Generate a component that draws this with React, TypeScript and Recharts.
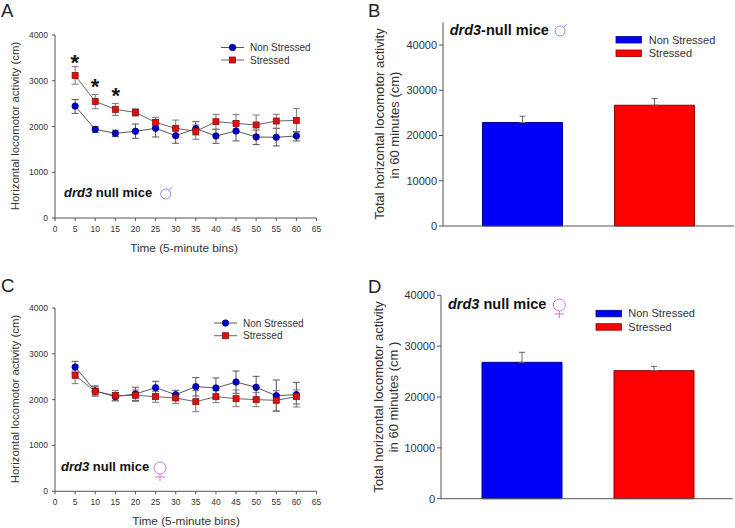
import React from "react";
import { LineChart, Line, BarChart, Bar, Cell, XAxis, YAxis, ErrorBar } from "recharts";

const FONT = "'Liberation Sans', Arial, sans-serif";
const TXT = "#333333";
const AXIS = "#555555";

const times = [5, 10, 15, 20, 25, 30, 35, 40, 45, 50, 55, 60];
const xTicks = [0, 5, 10, 15, 20, 25, 30, 35, 40, 45, 50, 55, 60, 65];
const lineTicks = [0, 1000, 2000, 3000, 4000];
const barTicksB = [0, 10000, 20000, 30000, 40000];

const aNon = [2446, 1938, 1851, 1895, 1960, 1800, 1953, 1793, 1902, 1771, 1764, 1793];
const aNonHi = [2590, 2000, 1920, 2054, 2150, 1960, 2105, 1940, 2110, 1923, 1960, 1887];
const aNonLo = [2287, 1870, 1780, 1742, 1771, 1633, 1815, 1633, 1685, 1604, 1575, 1684];
const aStr = [3114, 2548, 2374, 2308, 2091, 1960, 1895, 2105, 2069, 2033, 2120, 2134];
const aStrHi = [3310, 2700, 2504, 2388, 2200, 2141, 2033, 2265, 2265, 2250, 2265, 2395];
const aStrLo = [2925, 2388, 2243, 2228, 1982, 1778, 1720, 1938, 1887, 1815, 1960, 1873];

const cNon = [2713, 2190, 2065, 2124, 2262, 2109, 2284, 2255, 2385, 2269, 2087, 2109];
const cNonHi = [2836, 2300, 2155, 2270, 2400, 2204, 2480, 2473, 2625, 2509, 2429, 2378];
const cNonLo = [2590, 2080, 1975, 1980, 2124, 2007, 2080, 2029, 2138, 2022, 1753, 1905];
const cStr = [2531, 2182, 2087, 2095, 2065, 2036, 1956, 2065, 2022, 2000, 1985, 2065];
const cStrHi = [2625, 2280, 2196, 2211, 2175, 2124, 2196, 2196, 2211, 2153, 2196, 2211];
const cStrLo = [2349, 2080, 1978, 1964, 1942, 1913, 1738, 1935, 1847, 1847, 1745, 1840];

const groups = ["Non Stressed", "Stressed"];
const barColors = ["#0000f5", "#fa0000"];
const barEdges = ["#00009a", "#8a0000"];
const bVals = [22868, 26690];
const bHi = [24265, 28160];
const dVals = [26820, 25180];
const dHi = [28790, 26030];

const lineRows = (non: number[], nonHi: number[], nonLo: number[], str: number[], strHi: number[], strLo: number[]) =>
  times.map((t, i) => ({
    t,
    non: non[i],
    str: str[i],
    nonErr: [non[i] - nonLo[i], nonHi[i] - non[i]],
    strErr: [str[i] - strLo[i], strHi[i] - str[i]],
  }));

const barRows = (vals: number[], hi: number[]) =>
  groups.map((g, i) => ({ g, v: vals[i], err: [0, hi[i] - vals[i]] }));

const Box = ({ left, top, children }: any) => (
  <div style={{ position: "absolute", left, top }}>{children}</div>
);

const SquareDot = (p: any) => (
  <rect key={p.index} x={p.cx - 3} y={p.cy - 3} width={6} height={6} fill="#e00f0f" stroke="#8a1010" strokeWidth={0.8} />
);

const axisProps = {
  stroke: AXIS,
  tickLine: { stroke: AXIS },
  tickSize: 3,
};

const Timeline = ({ data, height, top, bottom }: any) => (
  <LineChart width={340} height={height} data={data} margin={{ top, left: 0, right: 23.5, bottom }}>
    <XAxis
      dataKey="t"
      type="number"
      domain={[0, 65]}
      ticks={xTicks}
      height={30}
      interval={0}
      tickMargin={5}
      {...axisProps}
      tick={{ fontSize: 8.5, fill: TXT, fontFamily: FONT }}
    />
    <YAxis
      type="number"
      domain={[0, 4000]}
      ticks={lineTicks}
      width={55}
      tickMargin={4}
      {...axisProps}
      tick={{ fontSize: 8.5, fill: TXT, fontFamily: FONT }}
    />
    <Line
      dataKey="non"
      isAnimationActive={false}
      stroke="#444444"
      strokeWidth={0.9}
      dot={{ r: 3.2, fill: "#0000c8", stroke: "#00006e", strokeWidth: 0.8 }}
    >
      <ErrorBar dataKey="nonErr" width={3.5} stroke="#555555" strokeWidth={1} isAnimationActive={false} />
    </Line>
    <Line dataKey="str" isAnimationActive={false} stroke="#555555" strokeWidth={0.9} dot={SquareDot}>
      <ErrorBar dataKey="strErr" width={3.5} stroke="#777777" strokeWidth={1} isAnimationActive={false} />
    </Line>
  </LineChart>
);

const Totals = ({ data, height, top, bottom, yWidth, right, domainMax, padL, padR }: any) => (
  <BarChart width={375} height={height} data={data} margin={{ top, left: 0, right, bottom }}>
    <XAxis dataKey="g" tick={false} tickLine={false} height={1} stroke={AXIS} padding={{ left: padL, right: padR }} />
    <YAxis
      type="number"
      domain={[0, domainMax]}
      ticks={barTicksB}
      width={yWidth}
      stroke={AXIS}
      tickLine={{ stroke: AXIS }}
      tickSize={4}
      tick={{ fontSize: 11, fill: TXT, fontFamily: FONT }}
    />
    <Bar dataKey="v" barSize={80} isAnimationActive={false} strokeWidth={1}>
      {data.map((_: any, i: number) => (
        <Cell key={i} fill={barColors[i]} stroke={barEdges[i]} />
      ))}
      <ErrorBar dataKey="err" width={3} stroke="#666666" strokeWidth={1} isAnimationActive={false} />
    </Bar>
  </BarChart>
);

const Male = ({ x, y, r = 5 }: any) => (
  <g fill="none" stroke="#7f7fe6" strokeWidth={0.9}>
    <circle cx={x} cy={y} r={r} />
    <path d={`M${x + r * 0.7} ${y - r * 0.7} L${x + r * 1.35} ${y - r * 1.4}`} />
  </g>
);

const Female = ({ x, y }: any) => (
  <g fill="none" stroke="#cc66e0" strokeWidth={0.9}>
    <circle cx={x} cy={y} r={6} />
    <path d={`M${x} ${y + 6} V${y + 13} M${x - 5} ${y + 9} H${x + 5}`} />
  </g>
);

const Mice = ({ x, y, size, gene, rest }: any) => (
  <text x={x} y={y} fontSize={size} fontWeight="bold" fill="#111111" fontFamily={FONT}>
    <tspan fontStyle="italic">{gene}</tspan>
    {rest}
  </text>
);

const VText = ({ x, y, size = 11.4, children }: any) => (
  <text
    x={x}
    y={y}
    fontSize={size}
    fill={TXT}
    fontFamily={FONT}
    textAnchor="middle"
    dominantBaseline="middle"
    transform={`rotate(-90 ${x} ${y})`}
  >
    {children}
  </text>
);

const Letter = ({ x, y, children }: any) => (
  <text x={x} y={y} fontSize={18.5} fill="#222222" fontFamily={FONT}>
    {children}
  </text>
);

const Star = ({ x, y }: any) => (
  <text x={x} y={y} fontSize={22} fontWeight="bold" fill="#111111" fontFamily={FONT} textAnchor="middle">
    *
  </text>
);

const LineKey = ({ x, y1, y2 }: any) => (
  <g>
    <path d={`M${x} ${y1} h23`} stroke="#444444" strokeWidth={0.9} />
    <circle cx={x + 11.5} cy={y1} r={3.2} fill="#0000c8" stroke="#00006e" strokeWidth={0.8} />
    <path d={`M${x} ${y2} h23`} stroke="#555555" strokeWidth={0.9} />
    <rect x={x + 8.5} y={y2 - 3} width={6} height={6} fill="#e00f0f" stroke="#8a1010" strokeWidth={0.8} />
    <text x={x + 29} y={y1 + 3.5} fontSize={10} fill={TXT} fontFamily={FONT}>{groups[0]}</text>
    <text x={x + 29} y={y2 + 3.5} fontSize={10} fill={TXT} fontFamily={FONT}>{groups[1]}</text>
  </g>
);

const BarKey = ({ x, y1, y2, tx }: any) => (
  <g>
    <rect x={x} y={y1} width={25.5} height={6.5} fill={barColors[0]} stroke={barEdges[0]} strokeWidth={0.8} />
    <rect x={x} y={y2} width={25.5} height={6.5} fill={barColors[1]} stroke={barEdges[1]} strokeWidth={0.8} />
    <text x={tx} y={y1 + 7} fontSize={11} fill={TXT} fontFamily={FONT}>{groups[0]}</text>
    <text x={tx} y={y2 + 7} fontSize={11} fill={TXT} fontFamily={FONT}>{groups[1]}</text>
  </g>
);

export default function App() {
  return (
    <div style={{ position: "absolute", left: 0, top: 0, width: 735, height: 528, overflow: "hidden", background: "#fff" }}>
      <Box left={0} top={0}>
        <Timeline data={lineRows(aNon, aNonHi, aNonLo, aStr, aStrHi, aStrLo)} height={260} top={35} bottom={12} />
      </Box>
      <Box left={0} top={270}>
        <Timeline data={lineRows(cNon, cNonHi, cNonLo, cStr, cStrHi, cStrLo)} height={258} top={38} bottom={6.7} />
      </Box>
      <Box left={360} top={0}>
        <Totals data={barRows(bVals, bHi)} height={250} top={22.4} bottom={23} yWidth={83} right={1} domainMax={45000} padL={13.5} padR={13.5} />
      </Box>
      <Box left={360} top={270}>
        <Totals data={barRows(dVals, dHi)} height={258} top={25.3} bottom={28.3} yWidth={81} right={2.3} domainMax={40000} padL={15} padR={12.7} />
      </Box>

      <svg width={735} height={528} style={{ position: "absolute", left: 0, top: 0, pointerEvents: "none" }}>
        <Letter x={1} y={17}>A</Letter>
        <Letter x={368} y={17}>B</Letter>
        <Letter x={1} y={292}>C</Letter>
        <Letter x={368} y={293}>D</Letter>

        <VText x={16} y={126}>Horizontal locomotor activity (cm)</VText>
        <VText x={16} y={399}>Horizontal locomotor activity (cm)</VText>
        <text x={184} y={252} fontSize={11.8} fill={TXT} fontFamily={FONT} textAnchor="middle">Time (5-minute bins)</text>
        <text x={186} y={525} fontSize={11.8} fill={TXT} fontFamily={FONT} textAnchor="middle">Time (5-minute bins)</text>

        <VText x={381} y={124} size={13}>Total horizontal locomotor activity</VText>
        <VText x={396} y={125} size={13}>in 60 minutes (cm)</VText>
        <VText x={380} y={397} size={13}>Total horizontal locomotor activity</VText>
        <VText x={395} y={397} size={13}>in 60 minutes (cm )</VText>

        <Star x={74.7} y={70} />
        <Star x={95} y={94} />
        <Star x={115.7} y={103} />

        <LineKey x={221} y1={47.5} y2={60} />
        <LineKey x={214} y1={323} y2={335.7} />
        <BarKey x={616} y1={36.5} y2={50} tx={648.7} />
        <BarKey x={596} y1={310.3} y2={323.7} tx={628.3} />

        <Mice x={64} y={197} size={13} gene="drd3" rest=" null mice" />
        <Mice x={61} y={471} size={13} gene="drd3" rest=" null mice" />
        <Mice x={449.7} y={35} size={14.5} gene="drd3" rest="-null mice" />
        <Mice x={448} y={308.7} size={14.5} gene="drd3" rest=" null mice" />

        <Male x={165.7} y={194} />
        <Male x={560} y={31} />
        <Female x={160} y={468} />
        <Female x={559.3} y={305} />
      </svg>
    </div>
  );
}
